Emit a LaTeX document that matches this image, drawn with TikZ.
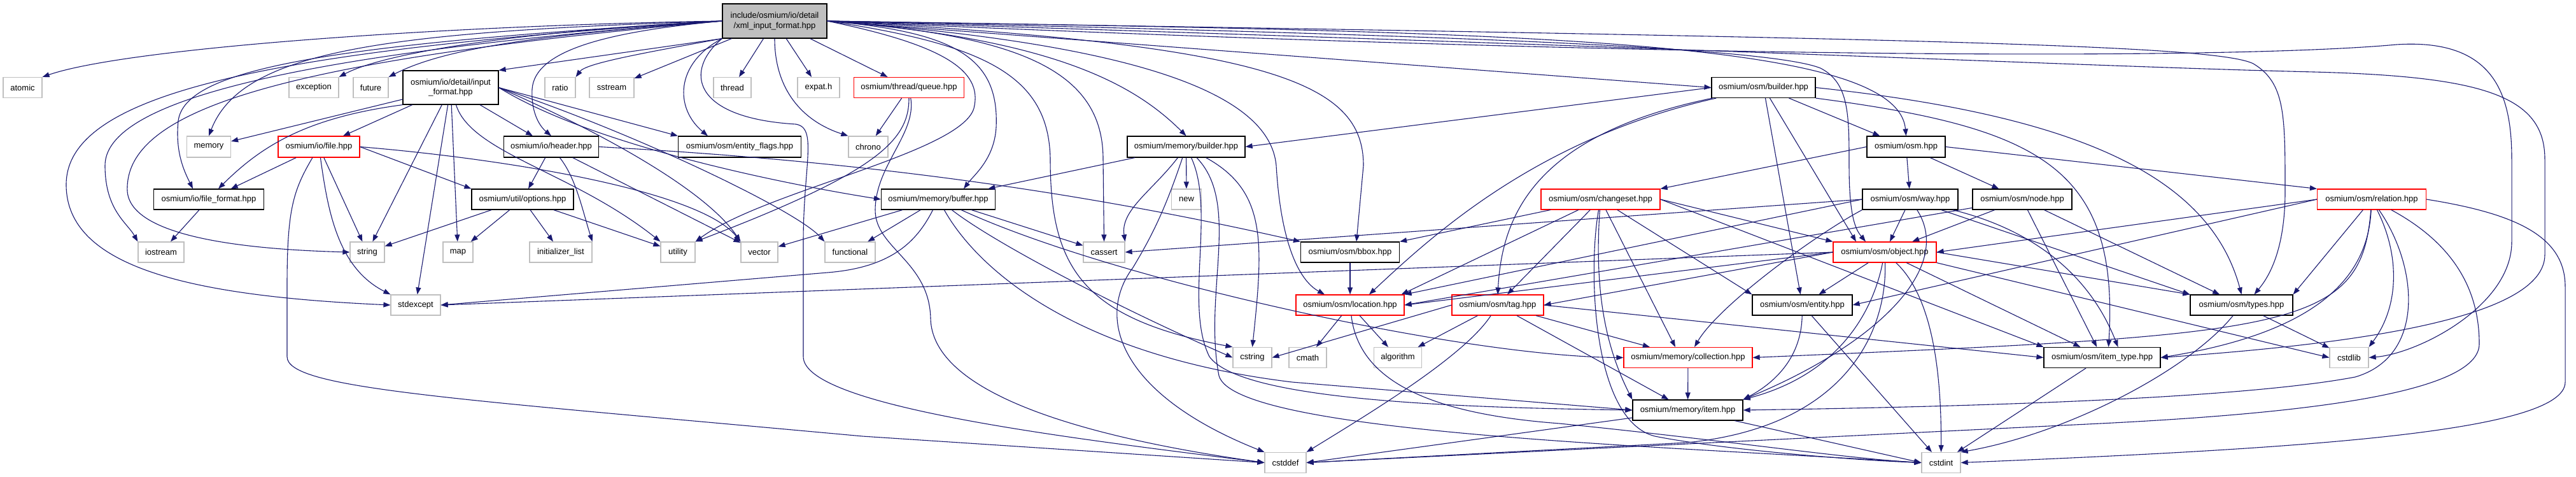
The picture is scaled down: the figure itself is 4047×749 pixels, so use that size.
\documentclass[tikz,border=0pt]{standalone}
\usepackage{fontspec}
\setmainfont{Liberation Sans}
\usepackage{tikz}
\usetikzlibrary{arrows.meta}
\definecolor{syscolor}{HTML}{BFBFBF}
\definecolor{depblue}{HTML}{191970}

\begin{document}
\begin{tikzpicture}[x=1pt,y=1pt,
    box/.style={rectangle, inner sep=1pt, minimum height=32pt, line width=1.2pt,
        align=center, font=\fontsize{13}{15.5}\selectfont},
    sys/.style={box, draw=syscolor},
    doc/.style={box, draw=black},
    trunc/.style={box, draw=red},
    rootbox/.style={box, draw=black, fill=syscolor, minimum height=54pt},
    dep/.style={draw=depblue, line width=1.1pt, -{Triangle[length=11pt,width=8pt]}}]
\useasboundingbox (0,0) rectangle (4047,-749);
\fill[white] (0,0) rectangle (4047,-749);
%
\node[rootbox, minimum width=164pt] (xmlin) at (1217,-33) {include/osmium/io/detail\\/xml\_input\_format.hpp};
%%%%%%%%%%%%%%%%%%%%%%%%%%%%%%%%%%%%%
\node[sys, minimum width=61pt] (atomic) at (35.5,-137.5) {atomic};
\node[sys, minimum width=78pt] (exception) at (493,-137.5) {exception};
\node[sys, minimum width=55pt] (future) at (582.5,-137.5) {future};
\node[doc, minimum width=150pt, minimum height=53pt] (inputfmt) at (708,-137.5) {osmium/io/detail/input\\\_format.hpp};
\node[sys, minimum width=48pt] (ratio) at (880,-137.5) {ratio};
\node[sys, minimum width=70pt] (sstream) at (961,-137.5) {sstream};
\node[sys, minimum width=59pt] (thread) at (1150.5,-137.5) {thread};
\node[sys, minimum width=66pt] (expat) at (1286,-137.5) {expat.h};
\node[trunc, minimum width=173pt] (queue) at (1428,-137.5) {osmium/thread/queue.hpp};
\node[doc, minimum width=163pt] (osmbuilder) at (2770.5,-137.5) {osmium/osm/builder.hpp};
%%%%%%%%%%%%%%%%%%%%%%%%%%%%%%%%%%%%%
\node[sys, minimum width=69pt, minimum height=33pt] (memory) at (328,-230.5) {memory};
\node[trunc, minimum width=128pt, minimum height=33pt] (file) at (501,-230.5) {osmium/io/file.hpp};
\node[doc, minimum width=149pt, minimum height=33pt] (header) at (866,-230.5) {osmium/io/header.hpp};
\node[doc, minimum width=193pt, minimum height=33pt] (entityflags) at (1162,-230.5) {osmium/osm/entity\_flags.hpp};
\node[sys, minimum width=62pt, minimum height=33pt] (chrono) at (1364,-230.5) {chrono};
\node[doc, minimum width=185pt, minimum height=33pt] (membuilder) at (1863.5,-230.5) {osmium/memory/builder.hpp};
\node[doc, minimum width=123pt, minimum height=33pt] (osm) at (2994.5,-230.5) {osmium/osm.hpp};
%%%%%%%%%%%%%%%%%%%%%%%%%%%%%%%%%%%%%
\node[doc, minimum width=173pt] (fileformat) at (328,-313) {osmium/io/file\_format.hpp};
\node[doc, minimum width=160pt] (options) at (821,-313) {osmium/util/options.hpp};
\node[doc, minimum width=179pt] (buffer) at (1474,-313) {osmium/memory/buffer.hpp};
\node[sys, minimum width=47pt] (new) at (1864,-313) {new};
\node[trunc, minimum width=187pt] (changeset) at (2514.5,-313) {osmium/osm/changeset.hpp};
\node[doc, minimum width=150pt] (way) at (3001,-313) {osmium/osm/way.hpp};
\node[doc, minimum width=156pt] (osmnode) at (3177,-313) {osmium/osm/node.hpp};
\node[trunc, minimum width=171pt] (relation) at (3726,-313) {osmium/osm/relation.hpp};
%%%%%%%%%%%%%%%%%%%%%%%%%%%%%%%%%%%%%
\node[sys, minimum width=72pt] (iostream) at (253,-396) {iostream};
\node[sys, minimum width=54pt] (string) at (577,-396) {string};
\node[sys, minimum width=47pt] (map) at (719.5,-396) {map};
\node[sys, minimum width=98pt] (initlist) at (881,-396) {initializer\_list};
\node[sys, minimum width=54pt] (utility) at (1065,-396) {utility};
\node[sys, minimum width=58pt] (vector) at (1193,-396) {vector};
\node[sys, minimum width=79pt] (functional) at (1335.5,-396) {functional};
\node[sys, minimum width=65pt] (cassert) at (1734.5,-396) {cassert};
\node[doc, minimum width=155pt] (bbox) at (2121,-396) {osmium/osm/bbox.hpp};
\node[trunc, minimum width=162pt] (object) at (2961,-396) {osmium/osm/object.hpp};
%%%%%%%%%%%%%%%%%%%%%%%%%%%%%%%%%%%%%
\node[sys, minimum width=78pt] (stdexcept) at (653,-479) {stdexcept};
\node[trunc, minimum width=170pt] (location) at (2121,-479) {osmium/osm/location.hpp};
\node[trunc, minimum width=144pt] (tag) at (2353,-479) {osmium/osm/tag.hpp};
\node[doc, minimum width=157pt] (entity) at (2831.5,-479) {osmium/osm/entity.hpp};
\node[doc, minimum width=161pt] (types) at (3521.5,-479) {osmium/osm/types.hpp};
%%%%%%%%%%%%%%%%%%%%%%%%%%%%%%%%%%%%%
\node[sys, minimum width=61pt] (cstring) at (1967.5,-561.5) {cstring};
\node[sys, minimum width=59pt] (cmath) at (2054.5,-561.5) {cmath};
\node[sys, minimum width=75pt] (algorithm) at (2196,-561.5) {algorithm};
\node[trunc, minimum width=202pt] (collection) at (2652,-561.5) {osmium/memory/collection.hpp};
\node[doc, minimum width=183pt] (itemtype) at (3302.5,-561.5) {osmium/osm/item\_type.hpp};
\node[sys, minimum width=61pt] (cstdlib) at (3690.5,-561.5) {cstdlib};
\node[doc, minimum width=173pt] (item) at (2651.5,-644) {osmium/memory/item.hpp};
\node[sys, minimum width=65pt] (cstddef) at (2019.5,-726.5) {cstddef};
\node[sys, minimum width=61pt] (cstdint) at (3049.5,-726.5) {cstdint};
%%%%%%%%%%%%%%%%%%%%%%%%%%%%%%%%%%%%%
% xml_input_format.hpp
\draw[dep] (xmlin.west) .. controls (700,-40) and (200,-75) .. (atomic.north east);
\draw[dep] (xmlin.west) .. controls (800,-50) and (600,-85) .. (exception.north east);
\draw[dep] (xmlin.west) .. controls (850,-55) and (700,-75) .. (future.north east);
\draw[dep] (xmlin.south west) -- (inputfmt.north east);
\draw[dep] (xmlin.south west) .. controls (1000,-85) and (920,-100) .. (ratio.north east);
\draw[dep] (xmlin) -- (sstream);
\draw[dep] (xmlin) -- (thread);
\draw[dep] (xmlin) -- (expat);
\draw[dep] (xmlin) -- (queue);
\draw[dep] (xmlin.east) -- (osmbuilder.west);
\draw[dep] (xmlin.west) .. controls (600,-50) and (380,-80) .. (memory.north);
\draw[dep] (xmlin.west) .. controls (950,-50) and (840,-80) .. (836,-140) .. controls (834,-180) and (850,-200) .. (header.north);
\draw[dep] (xmlin.south west) .. controls (1060,-100) and (1060,-170) .. ([xshift=-50pt]entityflags.north);
\draw[dep] (xmlin.south) .. controls (1217,-140) and (1260,-190) .. (chrono.north west);
\draw[dep] (xmlin.east) .. controls (1650,-60) and (1780,-130) .. (membuilder.north);
\draw[dep] (xmlin.east) .. controls (2400,-50) and (2980,-60) .. (osm.north);
\draw[dep] (xmlin.west) .. controls (500,-70) and (290,-110) .. (280,-190) .. controls (275,-240) and (290,-270) .. ([xshift=-25pt]fileformat.north);
\draw[dep] (xmlin.east) .. controls (1500,-50) and (1570,-90) .. (1565,-200) .. controls (1562,-250) and (1530,-275) .. ([xshift=40pt]buffer.north);
\draw[dep] (xmlin.west) .. controls (450,-85) and (165,-160) .. (165,-260) .. controls (165,-330) and (200,-350) .. (iostream.north west);
\draw[dep] (xmlin.west) .. controls (450,-95) and (195,-170) .. (200,-300) .. controls (205,-375) and (400,-392) .. (string.west);
\draw[dep] (xmlin.west) .. controls (400,-80) and (104,-150) .. (104,-290) .. controls (104,-420) and (300,-465) .. (stdexcept.west);
\draw[dep] (xmlin.east) .. controls (1480,-70) and (1545,-110) .. (1530,-170) .. controls (1510,-240) and (1200,-300) .. (utility.north east);
\draw[dep] (xmlin.east) .. controls (1600,-55) and (1733,-110) .. (1733,-250) -- (cassert.north);
\draw[dep] (xmlin.east) .. controls (2000,-70) and (2142,-130) .. (2142,-260) -- ([xshift=10pt]bbox.north);
\draw[dep] (xmlin.east) .. controls (1550,-70) and (1648,-120) .. (1650,-250) .. controls (1650,-420) and (1700,-500) .. (cstring.north west);
\draw[dep] (xmlin.south west) .. controls (1075,-110) and (1085,-185) .. (1250,-195) .. controls (1285,-200) and (1262,-260) .. (1262,-380) -- (1262,-560) .. controls (1262,-640) and (1700,-690) .. (cstddef.west);
\draw[dep] (xmlin.east) .. controls (2300,-55) and (2780,-75) .. (2860,-107) .. controls (2905,-130) and (2905,-180) .. (2905,-260) .. controls (2905,-340) and (2915,-360) .. ([xshift=-30pt]object.north);
\draw[dep] (xmlin.east) .. controls (3000,-60) and (3480,-70) .. (3540,-100) .. controls (3590,-130) and (3590,-180) .. (3590,-300) .. controls (3590,-400) and (3560,-440) .. ([xshift=20pt]types.north);
\draw[dep] (xmlin.east) .. controls (2800,-100) and (3550,-90) .. (3765,-70) .. controls (3920,-60) and (3946,-150) .. (3946,-250) -- (3946,-380) .. controls (3946,-480) and (3800,-555) .. (cstdlib.east);
\draw[dep] (xmlin.east) .. controls (2800,-80) and (3300,-105) .. (3635,-113) .. controls (3900,-120) and (3998,-150) .. (3998,-250) -- (3998,-400) .. controls (3998,-500) and (3700,-540) .. (itemtype.east);
\draw[dep] (xmlin.east) .. controls (1800,-70) and (1995,-150) .. (2005,-260) .. controls (2012,-380) and (2040,-440) .. ([xshift=-40pt]location.north);
% input_format.hpp
\draw[dep] (inputfmt) -- (memory);
\draw[dep] (inputfmt.south west) .. controls (480,-185) and (410,-230) .. ([xshift=15pt]fileformat.north);
\draw[dep] (inputfmt) -- (file);
\draw[dep] (inputfmt) -- (header);
\draw[dep] (inputfmt) -- (map);
\draw[dep] (inputfmt) -- (stdexcept);
\draw[dep] (inputfmt) -- (string);
\draw[dep] (inputfmt) .. controls (740,-240) and (900,-270) .. (utility.north west);
\draw[dep] (inputfmt.east) .. controls (950,-210) and (1110,-300) .. (vector.north west);
\draw[dep] (inputfmt.east) .. controls (1000,-210) and (1250,-330) .. (functional.north west);
\draw[dep] (inputfmt.east) .. controls (950,-240) and (1300,-300) .. (buffer.west);
\draw[dep] (inputfmt.east) -- (entityflags.north west);
% file.hpp, header.hpp, options.hpp
\draw[dep] (file) -- (fileformat);
\draw[dep] (file) -- (string);
\draw[dep] (file) .. controls (515,-330) and (530,-420) .. (stdexcept.north west);
\draw[dep] (file) .. controls (460,-300) and (451,-330) .. (451,-450) -- (451,-560) .. controls (451,-610) and (700,-625) .. (1355,-685) -- (cstddef.west);
\draw[dep] (file.east) -- (options.north west);
\draw[dep] (file.east) .. controls (800,-250) and (1100,-300) .. (vector.north west);
\draw[dep] (fileformat) -- (iostream);
\draw[dep] (header) -- (options);
\draw[dep] (header) .. controls (905,-280) and (915,-330) .. (initlist.north east);
\draw[dep] (header) -- (vector);
\draw[dep] (header.east) .. controls (1300,-250) and (1650,-290) .. (bbox.north west);
\draw[dep] (options) -- (string);
\draw[dep] (options) -- (map);
\draw[dep] (options) -- (initlist);
\draw[dep] (options) -- (utility);
% queue.hpp
\draw[dep] (queue) -- (chrono);
\draw[dep] (queue) .. controls (1428,-220) and (1380,-270) .. (utility.north east);
\draw[dep] (queue) .. controls (1440,-210) and (1375,-260) .. (1375,-330) .. controls (1375,-390) and (1460,-410) .. (1462,-500) .. controls (1465,-640) and (1800,-700) .. (cstddef.west);
% memory/buffer.hpp, memory/builder.hpp
\draw[dep] (buffer) -- (vector);
\draw[dep] (buffer) -- (functional);
\draw[dep] (buffer) .. controls (1440,-380) and (1400,-420) .. (1300,-428) -- (stdexcept.east);
\draw[dep] (buffer) .. controls (1540,-430) and (1700,-560) .. (2030,-600) -- (item.west);
\draw[dep] (buffer) .. controls (1560,-380) and (1750,-480) .. (cstring.west);
\draw[dep] (buffer) .. controls (1750,-440) and (2300,-560) .. (collection.west);
\draw[dep] (buffer) -- (cassert);
\draw[dep] (membuilder) -- (buffer);
\draw[dep] (membuilder) -- (new);
\draw[dep] (membuilder) .. controls (1810,-300) and (1760,-330) .. (cassert.north east);
\draw[dep] (membuilder) .. controls (1830,-330) and (1810,-370) .. (1780,-420) .. controls (1720,-500) and (1760,-620) .. (cstddef.north west);
\draw[dep] (membuilder) .. controls (1910,-330) and (1860,-480) .. (1900,-560) .. controls (1950,-630) and (2300,-640) .. (item.west);
\draw[dep] (membuilder) .. controls (1950,-320) and (1890,-460) .. (1915,-590) .. controls (1940,-680) and (2600,-700) .. (cstdint.west);
\draw[dep] (membuilder) .. controls (1990,-300) and (1985,-380) .. (cstring.north);
% osm/builder.hpp, osm.hpp
\draw[dep] (osmbuilder.west) -- (membuilder.east);
\draw[dep] (osmbuilder) -- (osm);
\draw[dep] (osmbuilder) .. controls (2415,-217) and (2250,-370) .. ([xshift=30pt]location.north);
\draw[dep] (osmbuilder) .. controls (2420,-210) and (2360,-330) .. (tag.north);
\draw[dep] (osmbuilder) -- ([xshift=-45pt]object.north);
\draw[dep] (osmbuilder) -- (entity);
\draw[dep] (osmbuilder.south east) .. controls (3200,-200) and (3330,-260) .. ([xshift=10pt]itemtype.north);
\draw[dep] (osmbuilder.east) .. controls (3250,-180) and (3470,-270) .. (types.north);
\draw[dep] (osm) -- (way);
\draw[dep] (osm) -- (osmnode);
\draw[dep] (osm.east) -- (relation.north west);
\draw[dep] (osm.west) -- (changeset.north east);
% changeset.hpp
\draw[dep] (changeset) -- (bbox.north east);
\draw[dep] (changeset) -- ([xshift=-5pt]location.north east);
\draw[dep] (changeset) -- ([xshift=15pt]tag.north);
\draw[dep] (changeset) .. controls (2495,-420) and (2500,-660) .. (2600,-685) .. controls (2700,-705) and (2900,-722) .. (cstdint.west);
\draw[dep] (changeset) .. controls (2505,-450) and (2520,-540) .. (item.north west);
\draw[dep] (changeset) -- ([xshift=-20pt]collection.north);
\draw[dep] (changeset) -- (entity.north west);
\draw[dep] (changeset.east) -- (object.north west);
\draw[dep] (changeset.east) -- (itemtype.north west);
% way.hpp, node.hpp
\draw[dep] (way) -- (object);
\draw[dep] (way.west) -- (location.north east);
\draw[dep] (way.west) -- (cassert.east);
\draw[dep] (way.south west) .. controls (2850,-370) and (2700,-480) .. ([xshift=10pt]collection.north);
\draw[dep] (way) .. controls (3150,-350) and (3270,-400) .. ([xshift=25pt]itemtype.north);
\draw[dep] (way) -- (types.north west);
\draw[dep] (way) .. controls (3070,-420) and (2950,-540) .. (item.north east);
\draw[dep] (osmnode) -- (object);
\draw[dep] (osmnode) -- (location.east);
\draw[dep] (osmnode) -- (itemtype);
\draw[dep] (osmnode) -- (types);
% relation.hpp
\draw[dep] (relation.west) -- (object.east);
\draw[dep] (relation.west) -- (entity.east);
\draw[dep] (relation) .. controls (3710,-520) and (3600,-525) .. (collection.east);
\draw[dep] (relation) -- (types.north east);
\draw[dep] (relation) .. controls (3720,-430) and (3650,-520) .. (itemtype.east);
\draw[dep] (relation) .. controls (3770,-400) and (3770,-480) .. (cstdlib.north east);
\draw[dep] (relation) .. controls (3800,-420) and (3810,-560) .. (3700,-592) .. controls (3500,-630) and (3000,-640) .. (item.east);
\draw[dep] (relation) .. controls (3850,-380) and (3895,-450) .. (3895,-540) .. controls (3895,-620) and (3600,-650) .. (3300,-665) -- (cstddef.east);
\draw[dep] (relation.east) .. controls (3950,-335) and (4030,-370) .. (4030,-450) -- (4030,-600) .. controls (4030,-680) and (3600,-705) .. (cstdint.east);
% object.hpp
\draw[dep] (object) -- (entity);
\draw[dep] (object) .. controls (2940,-500) and (2880,-590) .. (item.north east);
\draw[dep] (object) .. controls (2965,-520) and (2900,-670) .. (2650,-695) -- (cstddef.east);
\draw[dep] (object) .. controls (3040,-470) and (3050,-600) .. (cstdint.north);
\draw[dep] (object) -- (itemtype);
\draw[dep] (object.south east) -- (cstdlib.west);
\draw[dep] (object.east) -- (types.north west);
\draw[dep] (object.west) -- (location.east);
\draw[dep] (object.west) -- (tag.east);
\draw[dep] (object.west) -- (stdexcept.east);
% tag.hpp, location.hpp, bbox.hpp
\draw[dep] (tag) -- (algorithm);
\draw[dep] (tag) .. controls (2300,-560) and (2150,-650) .. (cstddef.north east);
\draw[dep] (tag) -- (item);
\draw[dep] (tag) -- (collection);
\draw[dep] (tag.east) -- (itemtype.west);
\draw[dep] (tag.west) -- (cstring.east);
\draw[dep] (location) -- (cmath);
\draw[dep] (location) -- (algorithm);
\draw[dep] (location) .. controls (2135,-600) and (2250,-650) .. (2450,-665) .. controls (2700,-690) and (2900,-720) .. (cstdint.west);
\draw[dep] (bbox) -- (location);
% entity, collection, item_type, types, item
\draw[dep] (entity) .. controls (2830,-560) and (2790,-600) .. (item.north east);
\draw[dep] (entity) -- (cstdint);
\draw[dep] (collection) -- (item);
\draw[dep] (itemtype) -- (cstdint);
\draw[dep] (types) .. controls (3440,-580) and (3250,-680) .. (cstdint.north east);
\draw[dep] (types) -- (cstdlib);
\draw[dep] (item) -- (cstddef.east);
\draw[dep] (item) -- (cstdint.west);
\end{tikzpicture}
\end{document}
